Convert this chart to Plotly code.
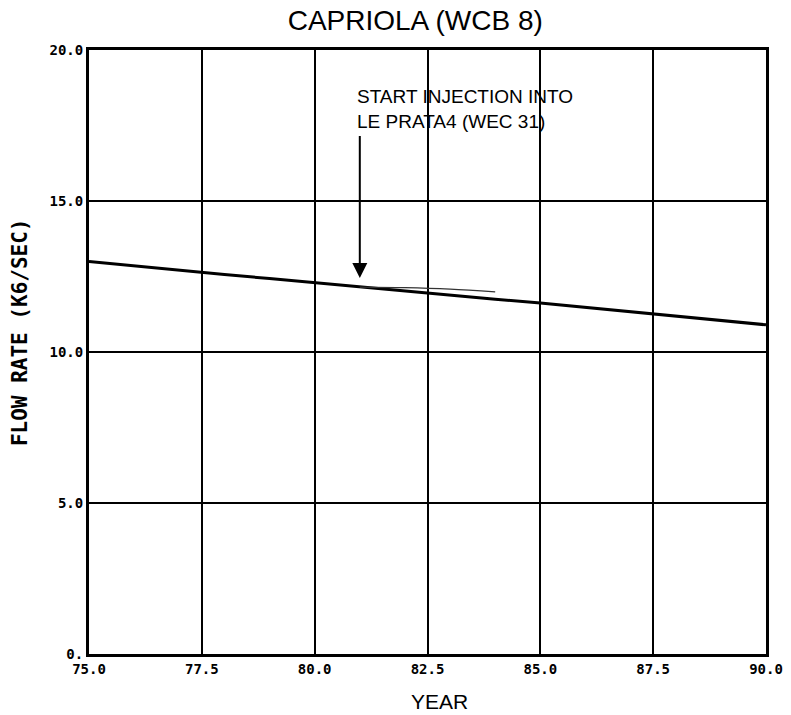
import plotly.graph_objects as go

years = [75, 76, 77, 78, 79, 80, 81, 82, 83, 84, 85, 86, 87, 88, 89, 90]
flow = [13.0, 12.85, 12.71, 12.57, 12.43, 12.29, 12.15, 12.02, 11.88, 11.75, 11.62, 11.48, 11.34, 11.2, 11.05, 10.9]

inj_years = [81.0, 82.0, 83.0, 84.0]
inj_flow = [12.15, 12.13, 12.08, 11.99]

x_ticks = [75.0, 77.5, 80.0, 82.5, 85.0, 87.5, 90.0]
x_labels = ["75.0", "77.5", "80.0", "82.5", "85.0", "87.5", "90.0"]
y_ticks = [0, 5, 10, 15, 20]
y_labels = ["0.", "5.0", "10.0", "15.0", "20.0"]

arrow_x = 81.0
arrow_tail_y = 17.2
arrow_head_y = 12.45

fig = go.Figure()
fig.add_trace(go.Scatter(x=years, y=flow, mode="lines",
                         line=dict(color="black", width=3), showlegend=False))
fig.add_trace(go.Scatter(x=inj_years, y=inj_flow, mode="lines",
                         line=dict(color="#333333", width=1.2, shape="spline"), showlegend=False))

fig.add_annotation(x=arrow_x, y=arrow_head_y, ax=arrow_x, ay=arrow_tail_y,
                   xref="x", yref="y", axref="x", ayref="y",
                   showarrow=True, arrowhead=2, arrowsize=1.5, arrowwidth=2,
                   arrowcolor="black", text="")
fig.add_annotation(x=80.9, y=18.05, xref="x", yref="y", xanchor="left", yanchor="middle",
                   showarrow=False, align="left",
                   text="START INJECTION INTO<br>LE PRATA4 (WEC 31)",
                   font=dict(family="Liberation Sans, Arial", size=19, color="black"))
fig.add_annotation(x=0, y=0.533, xref="paper", yref="paper", xshift=-69,
                   xanchor="center", yanchor="middle", textangle=-90, showarrow=False,
                   text="FLOW RATE (K6/SEC)",
                   font=dict(family="DejaVu Sans Mono", size=21, color="black", weight="bold"))
fig.add_annotation(x=0.517, y=0, xref="paper", yref="paper", yshift=-47,
                   xanchor="center", yanchor="middle", showarrow=False,
                   text="YEAR",
                   font=dict(family="Liberation Sans, Arial", size=21, color="black"))

fig.update_layout(
    width=791, height=715,
    margin=dict(l=89, r=25, t=50, b=61),
    paper_bgcolor="white", plot_bgcolor="white",
    title=dict(text="CAPRIOLA (WCB 8)", x=0.525, xanchor="center", y=0.972, yanchor="middle",
               font=dict(family="Liberation Sans, Arial", size=28, color="black")),
    xaxis=dict(range=[75, 90], tickvals=x_ticks, ticktext=x_labels, automargin=False,
               showgrid=True, gridcolor="black", gridwidth=2,
               showline=True, linecolor="black", linewidth=3, mirror=True,
               ticks="", zeroline=False,
               tickfont=dict(family="DejaVu Sans Mono", size=14, color="black", weight="bold")),
    yaxis=dict(range=[0, 20], tickvals=y_ticks, ticktext=y_labels, automargin=False,
               showgrid=True, gridcolor="black", gridwidth=2,
               showline=True, linecolor="black", linewidth=3, mirror=True,
               ticks="", zeroline=False,
               tickfont=dict(family="DejaVu Sans Mono", size=14, color="black", weight="bold")),
)

fig.write_html("out.html")
